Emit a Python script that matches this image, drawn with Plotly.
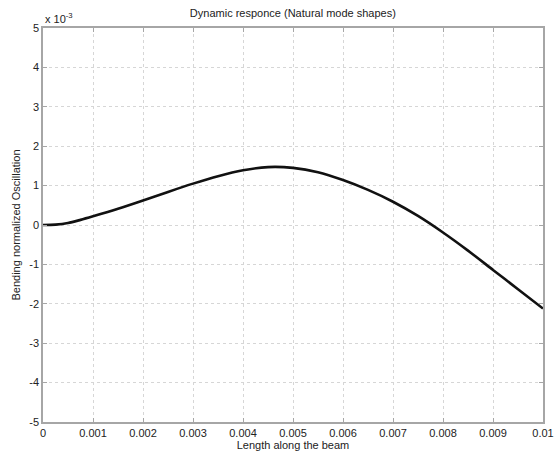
import plotly.graph_objects as go

# Length along the beam (m)
x_len = [0, 0.00025, 0.0005, 0.00075, 0.001, 0.0015, 0.002, 0.0025, 0.003, 0.0035,
         0.004, 0.0045, 0.005, 0.0055, 0.006, 0.0065, 0.007, 0.0075, 0.008, 0.0085,
         0.009, 0.0095, 0.01]
# Bending normalized oscillation (x 10^-3)
y_osc = [0, 0.01, 0.05, 0.13, 0.22, 0.41, 0.62, 0.84, 1.05, 1.24,
         1.39, 1.47, 1.45, 1.34, 1.14, 0.89, 0.59, 0.23, -0.19, -0.65,
         -1.14, -1.63, -2.12]

x_ticks = [0, 0.001, 0.002, 0.003, 0.004, 0.005, 0.006, 0.007, 0.008, 0.009, 0.01]
x_tick_text = ["0", "0.001", "0.002", "0.003", "0.004", "0.005", "0.006", "0.007", "0.008", "0.009", "0.01"]
y_ticks = [-5, -4, -3, -2, -1, 0, 1, 2, 3, 4, 5]
y_tick_text = ["-5", "-4", "-3", "-2", "-1", "0", "1", "2", "3", "4", "5"]

FONT = "Liberation Sans, Arial, sans-serif"
AXC = "#a6a6a6"

fig = go.Figure()
fig.add_trace(go.Scatter(x=x_len, y=y_osc, mode="lines",
                         line=dict(color="#111111", width=2.6, shape="spline", smoothing=0.8),
                         showlegend=False))

axis_common = dict(showline=True, linecolor=AXC, linewidth=1.5, mirror="ticks",
                   ticks="inside", ticklen=4, tickcolor=AXC, tickwidth=1,
                   showgrid=True, gridcolor="#d6d6d6", griddash="dot", gridwidth=1,
                   zeroline=False, automargin=False,
                   tickfont=dict(family=FONT, size=11, color="#222222"))

fig.update_xaxes(range=[0, 0.01], tickvals=x_ticks, ticktext=x_tick_text,
                 title=dict(text="Length along the beam", standoff=2,
                            font=dict(family=FONT, size=11, color="#222222")),
                 **axis_common)
fig.update_yaxes(range=[-5, 5], tickvals=y_ticks, ticktext=y_tick_text,
                 title=dict(text="Bending normalized Oscillation", standoff=6,
                            font=dict(family=FONT, size=11, color="#222222")),
                 **axis_common)

fig.update_layout(
    width=560, height=456,
    margin=dict(l=43, r=17, t=28, b=34),
    paper_bgcolor="white", plot_bgcolor="white",
    title=dict(text="Dynamic responce (Natural mode shapes)", x=0.523, xanchor="center",
               y=0.972, yanchor="middle",
               font=dict(family=FONT, size=11, color="#222222")),
    annotations=[dict(text="x 10<sup>-3</sup>", xref="paper", yref="paper",
                      x=0, y=1, xanchor="left", yanchor="bottom", yshift=1,
                      showarrow=False, font=dict(family=FONT, size=11, color="#222222"))],
)

fig.write_html("out.html")
